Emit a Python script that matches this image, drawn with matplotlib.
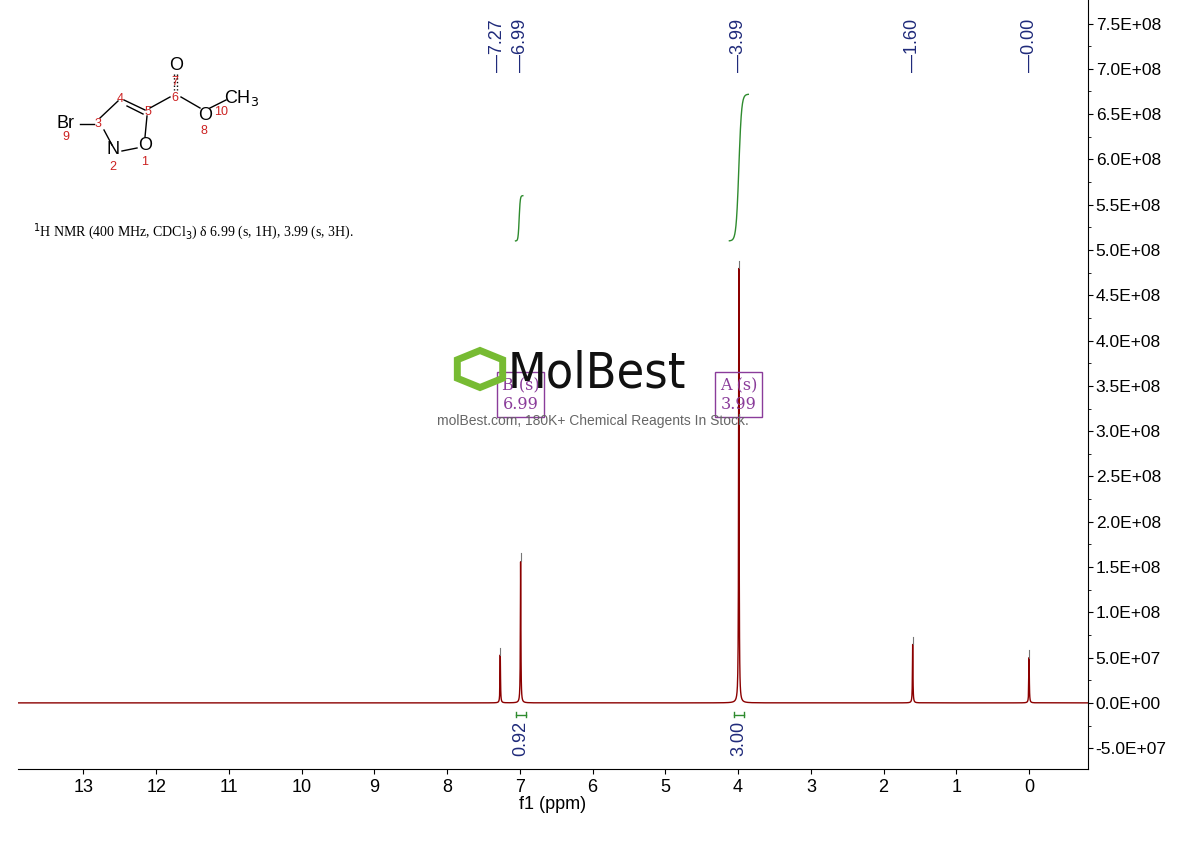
import numpy as np
import matplotlib.pyplot as plt
from matplotlib.patches import RegularPolygon

plt.rcParams['font.family'] = ['Liberation Sans', 'DejaVu Sans']

# peak data
peak_ppm = [7.27, 6.99, 3.99, 1.60, 0.00]
peak_height = [0.53e8, 1.57e8, 4.80e8, 0.65e8, 0.50e8]
peak_labels = ['7.27', '6.99', '3.99', '1.60', '0.00']
integ_ppm = [(7.06, 6.96), (4.12, 3.86)]
integ_low = [5.1e8, 5.1e8]
integ_high = [5.6e8, 6.72e8]
integ_vals = ['0.92', '3.00']
integ_center = [6.99, 3.99]
box_labels = [('B (s)', '6.99', 6.99), ('A (s)', '3.99', 3.99)]

xmin, xmax = 13.9, -0.81
ymin, ymax = -0.73e8, 7.76e8

red = '#8b0000'
green = '#2e8b2e'
navy = '#1f2a7a'
purple = '#8a3c9a'

fig = plt.figure(figsize=(11.9, 8.41), dpi=100)
ax = fig.add_axes([18/1190, 72/841, 1070/1190, 769/841])

x = np.linspace(xmax, xmin, 20000)
y = np.zeros_like(x)
w = 0.004
for p, h in zip(peak_ppm, peak_height):
    y += h * w**2 / ((x - p)**2 + w**2)
ax.plot(x, y, color=red, lw=1)

ax.set_xlim(xmin, xmax)
ax.set_ylim(ymin, ymax)
ax.set_xticks(range(0, 14))
ax.tick_params(axis='x', labelsize=13, direction='out')
ax.set_xlabel('f1 (ppm)', fontsize=13, labelpad=0)
ax.yaxis.tick_right()
yt = np.arange(-0.5e8, 7.6e8, 0.5e8)
ax.set_yticks(yt)
ax.set_yticklabels(['%.1E' % v if v != 0 else '0.0E+00' for v in yt], fontsize=12.5)
ax.tick_params(axis='y', pad=2)
ax.set_yticks(np.arange(-0.5e8, 7.6e8, 0.25e8), minor=True)
for s in ['top', 'left']:
    ax.spines[s].set_visible(False)

# peak labels at top
for p, h, lab in zip(peak_ppm, peak_height, peak_labels):
    xp = p + 0.04 if lab == '7.27' else p
    ax.text(xp, 7.55e8, '—' + lab, rotation=90, ha='center', va='top',
            color=navy, fontsize=13)
    ax.plot([p, p], [h, h + 0.08e8], color='#777777', lw=0.8)

# integrals
for (a, b), lo, hi, val, c in zip(integ_ppm, integ_low, integ_high, integ_vals, integ_center):
    t = np.linspace(0, 1, 200)
    xx = a + (b - a) * t
    yy = lo + (hi - lo) / (1 + np.exp(-(t - 0.5) * 14))
    ax.plot(xx, yy, color=green, lw=1)
    ax.plot([c - 0.07, c + 0.07], [-0.13e8, -0.13e8], color=green, lw=1)
    ax.plot([c - 0.07, c - 0.07], [-0.16e8, -0.10e8], color=green, lw=1)
    ax.plot([c + 0.07, c + 0.07], [-0.16e8, -0.10e8], color=green, lw=1)
    ax.text(c, -0.2e8, val, rotation=90, ha='center', va='top', color=navy, fontsize=13)

# watermark
hexa = RegularPolygon((480/1190, 1 - 369/841), 6, radius=0.022, orientation=0,
                      transform=fig.transFigure, fill=False, ec='#77bb33', lw=5)
fig.add_artist(hexa)
fig.text(508/1190, 1 - 374/841, 'MolBest', fontsize=36, va='center', ha='left',
         family='DejaVu Sans', color='#111111', fontstretch='condensed')
fig.text(593/1190, 1 - 421/841, 'molBest.com, 180K+ Chemical Reagents In Stock.',
         fontsize=10, ha='center', va='center', color='#666666')

# multiplet boxes
for l1, l2, c in box_labels:
    ax.text(c, 3.4e8, l1 + '\n' + l2, ha='center', va='center', color=purple,
            fontsize=11.5, family='DejaVu Serif', linespacing=1.1,
            bbox=dict(boxstyle='square,pad=0.3', fc='none', ec=purple, lw=1))

# NMR description
fig.text(33/1190, 1 - 232/841, r'$^{1}$H NMR (400 MHz, CDCl$_3$) δ 6.99 (s, 1H), 3.99 (s, 3H).',
         fontsize=10, family='Liberation Serif', va='center')

# structure (figure pixel coords)
def P(px, py):
    return px/1190, 1 - py/841

bonds = [((80, 124), (94, 124)), ((100, 118), (118, 101)), ((104, 130), (112, 145)),
         ((124, 100), (145, 110)), ((127, 106), (143, 114)), ((147, 116), (145, 137)),
         ((122, 151), (137, 148)), ((150, 108), (170, 97)), ((181, 97), (200, 108)),
         ((210, 108), (226, 100))]
for a, b in bonds:
    fig.add_artist(plt.Line2D(*zip(P(*a), P(*b)), color='k', lw=1, transform=fig.transFigure))
fig.add_artist(plt.Line2D(*zip(P(174, 74), P(174, 90)), color='k', lw=1, ls=':', transform=fig.transFigure))
fig.add_artist(plt.Line2D(*zip(P(177, 74), P(177, 90)), color='k', lw=1, ls=':', transform=fig.transFigure))
atoms = [('Br', 66, 123), ('N', 113, 150), ('O', 145, 146), ('O', 176, 66), ('O', 205, 115), ('CH$_3$', 242, 98)]
for s, px, py in atoms:
    fig.text(*P(px, py), s, fontsize=13, ha='center', va='center')
nums = [('9', 66, 137), ('3', 98, 124), ('2', 113, 167), ('1', 145, 162), ('4', 120, 99),
        ('5', 148, 112), ('6', 175, 98), ('7', 175, 82), ('8', 204, 131), ('10', 221, 112)]
for s, px, py in nums:
    fig.text(*P(px, py), s, fontsize=9, ha='center', va='center', color='#cc2222')

fig.savefig('out.png', dpi=100)
